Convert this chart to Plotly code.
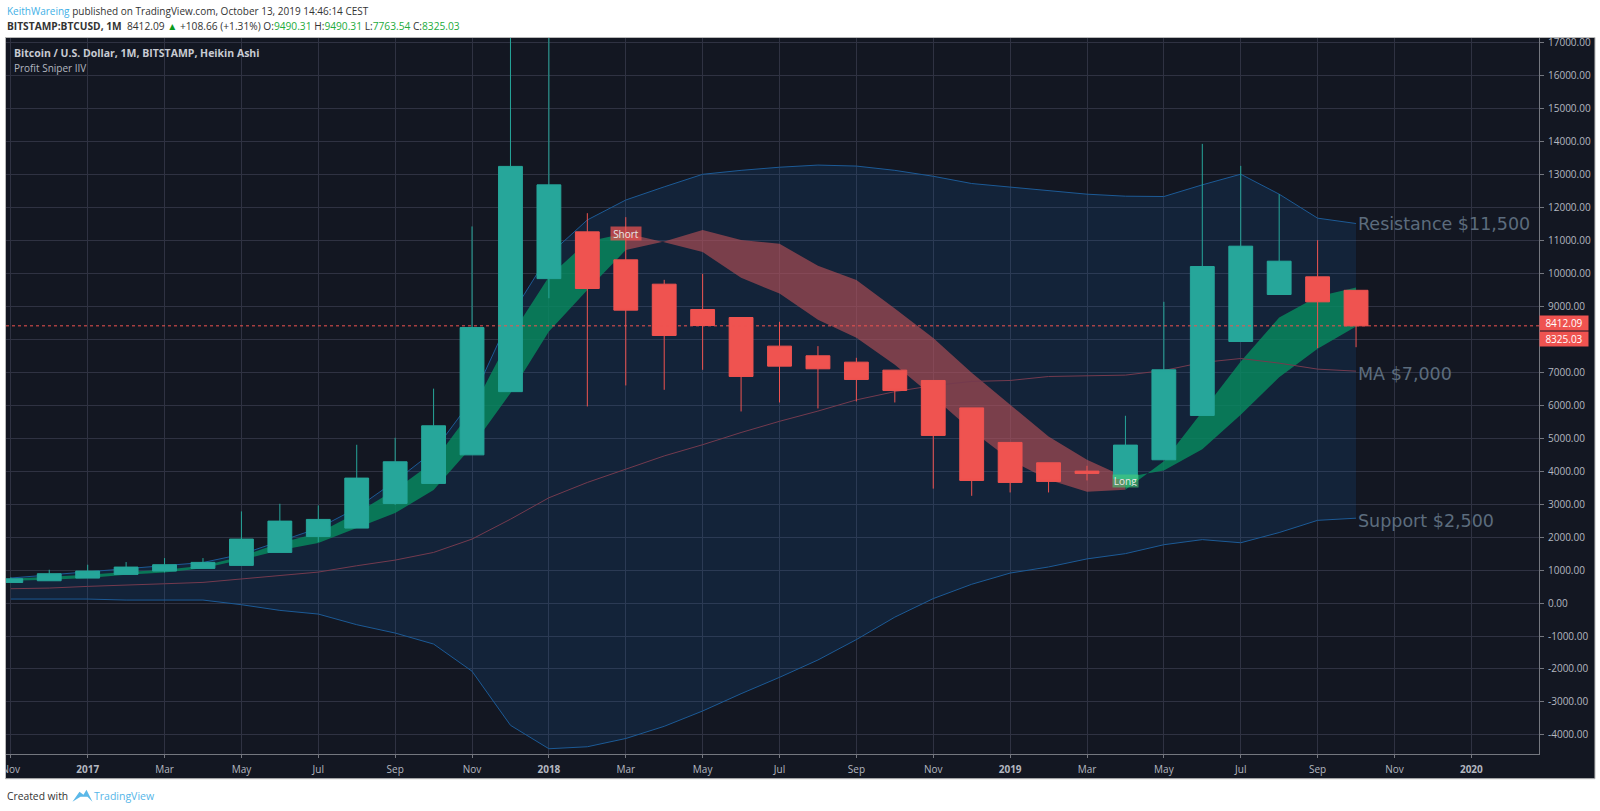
import plotly.graph_objects as go

months = list(range(36))
opens = [625,677,758,870,971,1052,1143,1537,2022,2275,3023,3630,4497,6415,9845,11264,10415,9676,8908,8665,7796,7503,7310,7068,6754,5922,4874,4257,4004,3780,4348,5693,7937,9363,9899,9490.31]
closes = [737,890,971,1092,1163,1234,1941,2487,2538,3792,4287,5379,8360,13250,12690,9545,8888,8119,8423,6876,7189,7108,6785,6451,5086,3720,3660,3691,3933,4793,7078,10212,10829,10374,9140,8412.09]
highs = [780,1011,1163,1244,1365,1365,2781,3013,2963,4803,5015,6506,11428,19600,17800,11830,11709,9808,9990,8665,8534,7796,7442,7068,6754,5922,4874,4257,4166,5683,9141,13933,13266,12407,11011,9490.31]
lows = [625,677,758,870,930,1052,1143,1537,1850,2275,2980,3630,4497,6415,9250,5966,6603,6471,7078,5814,6087,5905,6117,6087,3473,3254,3357,3357,3721,3780,4348,5693,7937,9363,7735,7763.54]

band_upper = [760,850,960,1030,1120,1230,1480,1880,2270,2880,3700,4600,6166,8700,10565,11625,12230,12630,13010,13130,13225,13290,13260,13130,12950,12730,12619,12508,12407,12346,12336,12690,13013,12407,11679,11517]
band_lower = [121,121,121,91,91,91,-50,-222,-334,-657,-910,-1244,-2068,-3709,-4421,-4360,-4110,-3740,-3275,-2750,-2254,-1727,-1108,-427,136,570,910,1095,1340,1500,1770,1925,1830,2140,2510,2575]
ma_line = [435,455,506,536,586,627,728,829,940,1132,1304,1537,1941,2545,3195,3660,4060,4465,4805,5175,5515,5825,6165,6415,6600,6725,6754,6875,6896,6916,7058,7300,7421,7280,7098,7037]
ribbon_fast = [738,789,860,940,1011,1132,1415,1820,2123,2730,3438,4290,5860,8090,9900,10970,11220,10950,10650,9870,9390,8600,8050,7230,6260,5235,4346,3740,3376,3438,4300,5810,7330,8665,9300,9575]
ribbon_slow = [677,707,758,860,930,1060,1315,1600,1820,2275,2730,3430,4750,6370,8240,9500,10710,10970,11320,11020,10900,10235,9800,8935,8040,6985,6014,5053,4346,3820,4024,4670,5712,6855,7715,8392]

x_ticks = list(range(0, 40, 2))
x_labels = ["Nov","<b>2017</b>","Mar","May","Jul","Sep","Nov","<b>2018</b>","Mar","May","Jul","Sep","Nov","<b>2019</b>","Mar","May","Jul","Sep","Nov","<b>2020</b>"]
y_ticks = list(range(-4000, 18000, 1000))
y_labels = [f"{v:.2f}" for v in y_ticks]

BG = "#131722"; GRID = "#2f3242"; TXT = "#b4b7c0"; UP = "#26a69a"; DOWN = "#ef5350"
FILL_BLUE = "rgba(20,110,200,0.14)"
FILL_GREEN = "rgba(8,140,95,0.8)"
FILL_RED = "rgba(191,82,89,0.6)"
FONT = "Open Sans"
X_RANGE = [-0.125, 39.76]
Y_RANGE = [-4580, 17146]

L, R, T, B = 5.5, 1539, 38, 754.3
def px(x): return (x - L) / (R - L)
def py(y): return (B - y) / (B - T)

fig = go.Figure()

def band(xs, top, bot, color):
    fig.add_trace(go.Scatter(x=xs + xs[::-1], y=top + bot[::-1], mode="lines", line=dict(width=0),
                             fill="toself", fillcolor=color, hoverinfo="skip", showlegend=False))

band(months, band_upper, band_lower, FILL_BLUE)
band(months[:17], ribbon_fast[:17], ribbon_slow[:17], FILL_GREEN)
band(months[16:30], ribbon_fast[16:30], ribbon_slow[16:30], FILL_RED)
band(months[29:], ribbon_fast[29:], ribbon_slow[29:], FILL_GREEN)

for series, color in [(band_upper, "#1c5a96"), (band_lower, "#1c5a96"), (ma_line, "#743a4e")]:
    fig.add_trace(go.Scatter(x=months, y=series, mode="lines", line=dict(color=color, width=1),
                             hoverinfo="skip", showlegend=False))

# on an overlaying pair of axes so that the candles paint above the filled bands
fig.add_trace(go.Candlestick(x=months, open=opens, high=highs, low=lows, close=closes, xaxis="x2", yaxis="y2",
                             increasing=dict(line=dict(color=UP, width=1), fillcolor=UP),
                             decreasing=dict(line=dict(color=DOWN, width=1), fillcolor=DOWN),
                             whiskerwidth=0, showlegend=False))

shapes = [
    dict(type="rect", xref="paper", yref="paper", x0=px(5), x1=px(1595), y0=py(779), y1=py(37.5),
         fillcolor=BG, line=dict(color="#b8b8b8", width=1), layer="below"),
    dict(type="line", xref="paper", yref="y", x0=0, x1=1, y0=closes[-1], y1=closes[-1],
         line=dict(color=DOWN, width=1, dash="dot"), layer="above"),
    # crops the first month label at the frame edge, as the reference does
    dict(type="rect", xref="paper", yref="paper", x0=px(0), x1=px(4.6), y0=py(779), y1=py(755),
         fillcolor="white", line=dict(width=0), layer="above"),
    # TradingView logo
    dict(type="path", xref="paper", yref="paper", layer="above", fillcolor="#5bb8e8", line=dict(width=0),
         path="M %.5f %.5f L %.5f %.5f L %.5f %.5f L %.5f %.5f L %.5f %.5f L %.5f %.5f L %.5f %.5f Z" % (
             px(72), py(802), px(79), py(792), px(83), py(795), px(86), py(790),
             px(92), py(802), px(87), py(797), px(80), py(797))),
]

def text(x, y, s, size=11, color="#333", anchor="left", family=FONT, xref="paper", yref="paper", align=None, **kw):
    return dict(x=x, y=y, xref=xref, yref=yref, text=s, showarrow=False, xanchor=anchor, yanchor="middle",
                align=align or anchor, font=dict(size=size, color=color, family=family), **kw)

G = "#22ab3c"
annotations = [
    text(px(4), py(11), '<span style="color:#3fb0e6">KeithWareing</span> published on TradingView.com, October 13, 2019 14:46:14 CEST', size=10),
    text(px(4), py(26), f'<b>BITSTAMP:BTCUSD, 1M</b>  8412.09 <span style="color:#0a9a1e">▲</span> +108.66 (+1.31%) O:<span style="color:{G}">9490.31</span> H:<span style="color:{G}">9490.31</span> L:<span style="color:{G}">7763.54</span> C:<span style="color:{G}">8325.03</span>', size=10.2),
    text(px(11.5), py(53), "<b>Bitcoin / U.S. Dollar, 1M, BITSTAMP, Heikin Ashi</b>", size=10.5, color="#c8cbd2"),
    text(px(11.5), py(68), "Profit Sniper IIV", size=10, color="#b4b7c0"),
    text(px(4), py(796), "Created with", size=10.3),
    text(px(92), py(796), "TradingView", size=10.5, color="#55b6e8"),
    text(35, 11500, "Resistance $11,500", size=17.5, color="#5c6c7d", family="DejaVu Sans", xref="x", yref="y", yshift=0),
    text(35, 7000, "MA $7,000", size=17.5, color="#5c6c7d", family="DejaVu Sans", xref="x", yref="y", yshift=-2),
    text(35, 2500, "Support $2,500", size=17.5, color="#5c6c7d", family="DejaVu Sans", xref="x", yref="y"),
    text(16, 11210, "Short", size=10, color="#e8e8e8", anchor="center", xref="x", yref="y",
         bgcolor="rgba(239,83,80,0.72)", width=28, height=11),
    text(29, 3710, "Long", size=10, color="#e8e8e8", anchor="center", xref="x", yref="y",
         bgcolor="rgba(70,205,120,0.6)", width=23, height=10),
    text(1.0, closes[-1], "8412.09", size=10, color="white", anchor="left", align="center", yref="y",
         bgcolor=DOWN, width=46, height=12, yshift=3),
    text(1.0, closes[-1], "8325.03", size=10, color="white", anchor="left", align="center", yref="y",
         bgcolor=DOWN, width=46, height=12, yshift=-13),
]

fig.update_layout(
    width=1600, height=811, autosize=False,
    margin=dict(l=L, r=1600 - R, t=T, b=811 - B, pad=0, autoexpand=False),
    paper_bgcolor="white", plot_bgcolor=BG,
    font=dict(family=FONT, size=10, color=TXT),
    boxgap=0.38, boxgroupgap=0, showlegend=False, hovermode=False,
    xaxis=dict(range=X_RANGE, tickmode="array", tickvals=x_ticks, ticktext=x_labels,
               showgrid=True, gridcolor=GRID, gridwidth=1, zeroline=False, rangeslider=dict(visible=False),
               showline=True, linecolor="#74777f", ticks="outside", ticklen=3, tickcolor="#74777f",
               ticklabelstandoff=3, tickfont=dict(size=10, color=TXT, family=FONT)),
    yaxis=dict(range=Y_RANGE, side="right", tickmode="array", tickvals=y_ticks, ticktext=y_labels,
               showgrid=True, gridcolor=GRID, gridwidth=1, zeroline=False,
               showline=True, linecolor="#74777f", ticks="outside", ticklen=4, tickcolor="#74777f",
               ticklabelstandoff=2, tickfont=dict(size=10, color=TXT, family=FONT)),
    xaxis2=dict(range=X_RANGE, overlaying="x", anchor="y2", visible=False, rangeslider=dict(visible=False)),
    yaxis2=dict(range=Y_RANGE, overlaying="y", anchor="x2", side="right", visible=False),
    shapes=shapes, annotations=annotations,
)

fig.write_html("out.html", config=dict(displayModeBar=False), post_script="document.body.style.margin='0';")
